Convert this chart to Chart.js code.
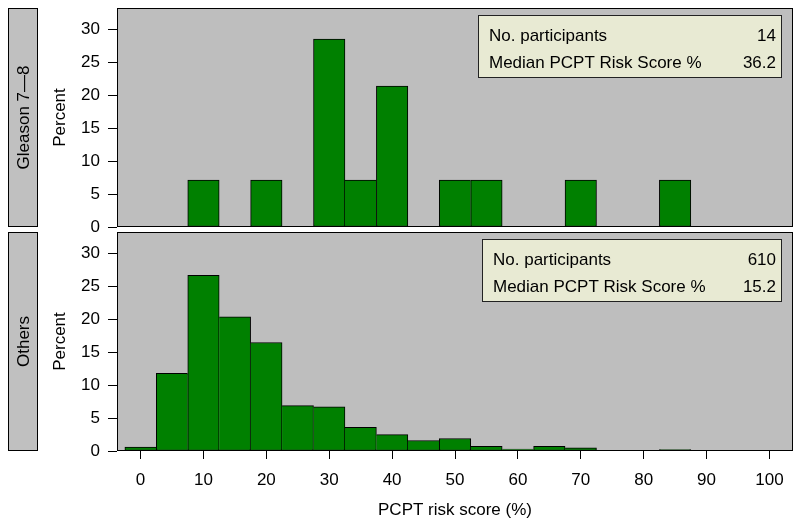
<!DOCTYPE html>
<html lang="en">
<head>
    <meta charset="UTF-8">
    <title>PCPT risk score by Gleason group</title>
    <script src="https://cdn.jsdelivr.net/npm/chart.js@4.4.1/dist/chart.umd.min.js"></script>
    <style>
        body {
            margin: 0;
            background-color: #fff;
        }
        .wrap {
            position: relative;
            width: 800px;
            height: 526px;
        }
        .wrap canvas {
            position: absolute;
            left: 0;
            top: 0;
        }
    </style>
</head>
<body>
    <div class="wrap">
        <canvas id="gleasonChart" width="800" height="526"></canvas>
        <canvas id="othersChart" width="800" height="526"></canvas>
    </div>

    <script>
        // histogram bins (centre of each 5-point bin)
        const binCenters = [0, 5, 10, 15, 20, 25, 30, 35, 40, 45, 50, 55, 60, 65, 70, 75, 80, 85, 90, 95, 100];
        // percent of participants per bin
        const gleasonPct = [0, 0, 7.14, 0, 7.14, 0, 28.57, 7.14, 21.43, 0, 7.14, 7.14, 0, 0, 7.14, 0, 0, 7.14, 0, 0, 0];
        const othersPct = [0.6, 11.8, 26.7, 20.4, 16.5, 6.9, 6.7, 3.6, 2.5, 1.6, 1.9, 0.7, 0.3, 0.7, 0.5, 0, 0, 0.2, 0, 0, 0];

        const xTicks = [0, 10, 20, 30, 40, 50, 60, 70, 80, 90, 100];
        const yTicks = [0, 5, 10, 15, 20, 25, 30];

        const statLabels = ['No. participants', 'Median PCPT Risk Score %'];
        const gleasonStats = ['14', '36.2'];
        const othersStats = ['610', '15.2'];

        Chart.defaults.font.family = "'Liberation Sans', Arial, sans-serif";
        Chart.defaults.font.size = 17;
        Chart.defaults.color = '#000';

        const FONT = "17px 'Liberation Sans', Arial, sans-serif";

        // grey panel, frame, strip label on the left and the stats box
        const panelPlugin = {
            id: 'panel',
            beforeDraw(chart, args, opts) {
                const a = chart.chartArea;
                const ctx = chart.ctx;
                ctx.save();
                ctx.fillStyle = '#bebebe';
                ctx.fillRect(a.left, a.top, a.right - a.left, a.bottom - a.top);

                // strip
                ctx.fillStyle = '#c0c0c0';
                ctx.fillRect(8, a.top, 29, a.bottom - a.top);
                ctx.strokeStyle = '#000';
                ctx.lineWidth = 1;
                ctx.strokeRect(8.5, a.top + 0.5, 29, a.bottom - a.top - 1);
                ctx.translate(23, (a.top + a.bottom) / 2);
                ctx.rotate(-Math.PI / 2);
                ctx.fillStyle = '#000';
                ctx.font = FONT;
                ctx.textAlign = 'center';
                ctx.textBaseline = 'middle';
                ctx.fillText(opts.strip, 0, 1);
                ctx.restore();
            },
            afterDatasetsDraw(chart, args, opts) {
                const a = chart.chartArea;
                const ctx = chart.ctx;
                ctx.save();
                ctx.strokeStyle = '#000';
                ctx.lineWidth = 1;
                ctx.strokeRect(a.left + 0.5, a.top + 0.5, a.right - a.left - 1, a.bottom - a.top - 1);

                const bx = a.right - 11 - opts.boxWidth;
                const by = a.top + 7;
                ctx.fillStyle = '#e8ead3';
                ctx.fillRect(bx, by, opts.boxWidth, 63);
                ctx.strokeStyle = '#222';
                ctx.strokeRect(bx + 0.5, by + 0.5, opts.boxWidth - 1, 62);

                ctx.fillStyle = '#000';
                ctx.font = FONT;
                ctx.textBaseline = 'middle';
                statLabels.forEach((label, i) => {
                    const y = by + 21 + i * 27;
                    ctx.textAlign = 'left';
                    ctx.fillText(label, bx + 11, y);
                    ctx.textAlign = 'right';
                    ctx.fillText(opts.values[i], bx + opts.boxWidth - 6, y);
                });
                ctx.restore();
            }
        };

        function histBorder(c) {
            if (c.type !== 'data') return 1;
            const d = c.dataset.data;
            const i = c.dataIndex;
            const v = d[i].y;
            const prev = i > 0 ? d[i - 1].y : 0;
            const next = i < d.length - 1 ? d[i + 1].y : 0;
            return { top: 1, bottom: 1, left: prev <= v ? 1 : 0, right: next < v ? 1 : 0 };
        }

        function makePanel(canvasId, values, strip, stats, boxWidth, isBottom) {
            const ctx = document.getElementById(canvasId).getContext('2d');
            return new Chart(ctx, {
                type: 'bar',
                data: {
                    datasets: [{
                        data: binCenters.map((x, i) => ({ x: x, y: values[i] })),
                        backgroundColor: '#008000',
                        borderColor: '#000',
                        borderWidth: histBorder,
                        borderSkipped: false,
                        barPercentage: 1,
                        categoryPercentage: 1
                    }]
                },
                options: {
                    responsive: false,
                    animation: false,
                    events: [],
                    layout: {
                        padding: isBottom
                            ? { top: 232, bottom: 0, left: 0, right: 7 }
                            : { top: 8, bottom: 299, left: 0, right: 7 }
                    },
                    plugins: {
                        legend: { display: false },
                        tooltip: { enabled: false },
                        panel: { strip: strip, values: stats, boxWidth: boxWidth }
                    },
                    scales: {
                        x: {
                            type: 'linear',
                            display: isBottom,
                            min: -3.75,
                            max: 103.75,
                            offset: false,
                            afterBuildTicks: (scale) => {
                                scale.ticks = xTicks.map(v => ({ value: v }));
                            },
                            afterFit: (scale) => {
                                scale.height = isBottom ? 75 : 0;
                                scale.paddingLeft = 0;
                                scale.paddingRight = 0;
                            },
                            grid: {
                                offset: false,
                                drawOnChartArea: false,
                                tickLength: 8,
                                color: '#000'
                            },
                            border: { display: false },
                            ticks: { padding: 11, maxRotation: 0 },
                            title: {
                                display: true,
                                text: 'PCPT risk score (%)',
                                padding: { top: 0, bottom: 5 }
                            }
                        },
                        y: {
                            min: 0,
                            max: 33.3,
                            afterBuildTicks: (scale) => {
                                scale.ticks = yTicks.map(v => ({ value: v }));
                            },
                            afterFit: (scale) => {
                                scale.width = 117;
                                scale.paddingTop = 0;
                                scale.paddingBottom = 0;
                            },
                            grid: {
                                drawOnChartArea: false,
                                tickLength: 9,
                                color: '#000'
                            },
                            border: { display: false },
                            ticks: { padding: 8 },
                            title: {
                                display: true,
                                text: 'Percent',
                                padding: { top: 50, bottom: 0 }
                            }
                        }
                    }
                },
                plugins: [panelPlugin]
            });
        }

        makePanel('gleasonChart', gleasonPct, 'Gleason 7\u20148', gleasonStats, 304, false);
        makePanel('othersChart', othersPct, 'Others', othersStats, 300, true);
    </script>
</body>
</html>
